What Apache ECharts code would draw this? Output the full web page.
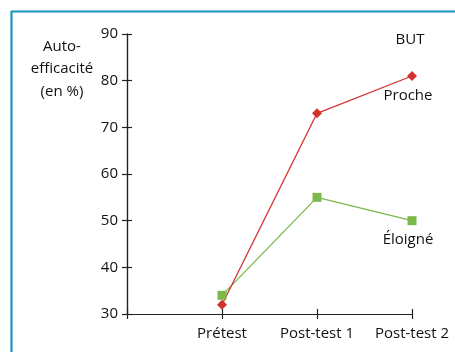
<!DOCTYPE html>
<html><head><meta charset="utf-8">
<script src="https://cdn.jsdelivr.net/npm/echarts@6/dist/echarts.min.js"></script>
<style>html,body{margin:0;padding:0;background:#fff}#c{width:455px;height:352px}</style>
</head><body><div id="c"></div>
<script>
var categories = ['', 'Prétest', 'Post-test 1', 'Post-test 2'];
var procheValues = [null, 32, 73, 81];
var eloigneValues = [null, 34, 55, 50];
var yTicks = [30, 40, 50, 60, 70, 80, 90];
var seriesNames = ['Proche', 'Éloigné'];
var yTitle = 'Auto-\nefficacité\n(en %)';
var cornerLabel = 'BUT';

var FONT = 'Open Sans';
var FS = 15;
var RED = '#d2322f', GREEN = '#7cb84a', AXIS = '#222';

function withEndLabel(values, name) {
  return values.map(function (v, i) {
    if (i === values.length - 1) {
      return { value: v, label: { show: true, formatter: name, position: 'bottom', distance: 7,
        color: '#111', fontFamily: FONT, fontSize: FS, offset: [-4, 0] } };
    }
    return v;
  });
}

var chart = echarts.init(document.getElementById('c'));
var axisCommon = {
  type: 'category', data: categories, boundaryGap: false,
  axisLine: { lineStyle: { color: AXIS, width: 1.2 } },
  splitLine: { show: false }
};
var yCommon = {
  type: 'value', min: yTicks[0], max: yTicks[yTicks.length - 1], interval: 10,
  axisLine: { show: true, lineStyle: { color: AXIS, width: 1.2 } },
  splitLine: { show: false }
};
chart.setOption({
  animation: false,
  grid: { left: 127, top: 34, right: 43, bottom: 38, containLabel: false },
  xAxis: [
    Object.assign({}, axisCommon, {
      axisTick: { show: true, length: 5, interval: 0, lineStyle: { color: AXIS, width: 1.2 } },
      axisLabel: { color: '#111', fontFamily: FONT, fontSize: FS, margin: 12, interval: 0, hideOverlap: false }
    }),
    Object.assign({}, axisCommon, {
      position: 'bottom',
      axisTick: { show: true, inside: true, length: 5, interval: 0, lineStyle: { color: AXIS, width: 1.2 } },
      axisLabel: { show: false }
    })
  ],
  yAxis: [
    Object.assign({}, yCommon, {
      axisTick: { show: true, length: 5, lineStyle: { color: AXIS, width: 1.2 } },
      axisLabel: { color: '#111', fontFamily: FONT, fontSize: FS, margin: 9 }
    }),
    Object.assign({}, yCommon, {
      position: 'left',
      axisTick: { show: true, inside: true, length: 5, lineStyle: { color: AXIS, width: 1.2 } },
      axisLabel: { show: false }
    })
  ],
  series: [
    { name: seriesNames[1], type: 'line', data: withEndLabel(eloigneValues, seriesNames[1]),
      symbol: 'rect', symbolSize: 9, lineStyle: { color: GREEN, width: 1.3 },
      itemStyle: { color: GREEN } },
    { name: seriesNames[0], type: 'line', data: withEndLabel(procheValues, seriesNames[0]),
      symbol: 'diamond', symbolSize: 10, lineStyle: { color: RED, width: 1.3 },
      itemStyle: { color: RED } }
  ],
  graphic: [
    { type: 'line', shape: { x1: 11.5, y1: 11, x2: 11.5, y2: 352 }, style: { stroke: '#1a93c4', lineWidth: 2.2 } },
    { type: 'line', shape: { x1: 11, y1: 11.5, x2: 455, y2: 11.5 }, style: { stroke: '#1a93c4', lineWidth: 2.2 } },
    { type: 'text', x: 62, y: 35, style: { text: yTitle, fontFamily: FONT, fontSize: FS,
      fill: '#111', align: 'center', verticalAlign: 'top', lineHeight: 22.5 } },
    { type: 'text', x: 410, y: 40, style: { text: cornerLabel, fontFamily: FONT, fontSize: FS,
      fill: '#111', align: 'center', verticalAlign: 'middle' } }
  ]
});
</script></body></html>
